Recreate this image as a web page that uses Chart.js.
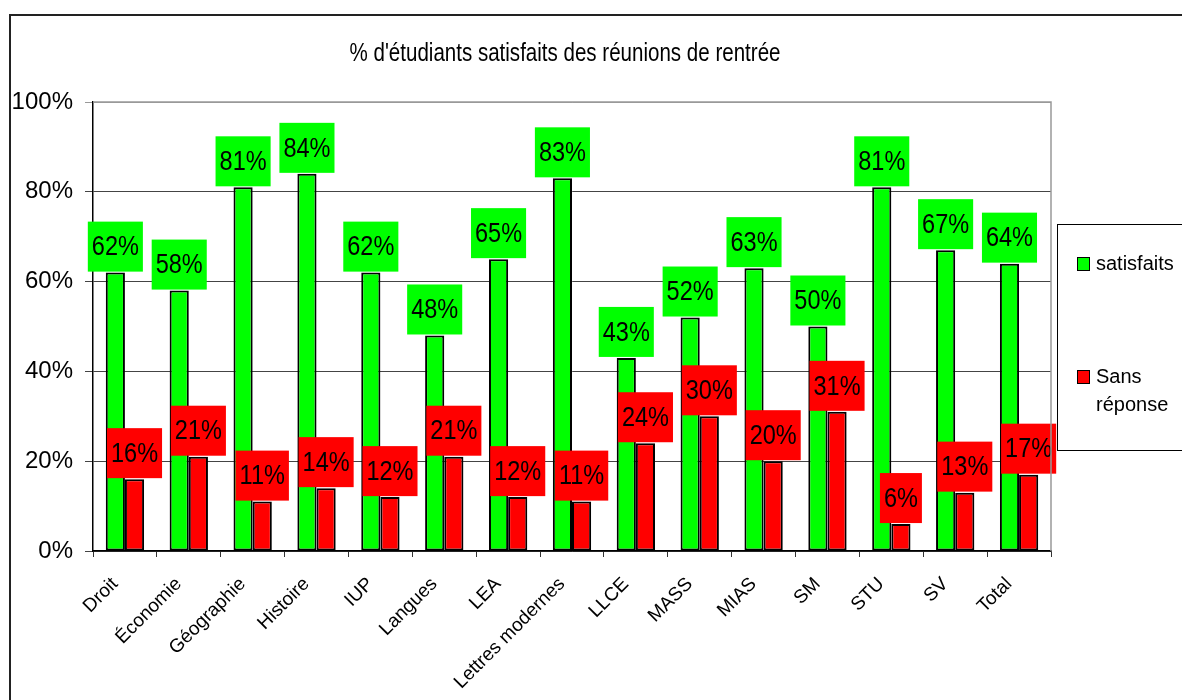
<!DOCTYPE html>
<html>
<head>
<meta charset="utf-8">
<title>Réunions de rentrée</title>
<script src="https://cdn.jsdelivr.net/npm/chart.js@4/dist/chart.umd.min.js"></script>
<style>
    html, body { margin: 0; padding: 0; background: #fff; }
    #wrap { position: relative; width: 1182px; height: 700px; }
</style>
</head>
<body>
<div id="wrap"><canvas id="myChart" width="1182" height="700"></canvas></div>
<script>
var filieres = ["Droit", "Économie", "Géographie", "Histoire", "IUP", "Langues", "LEA",
    "Lettres modernes", "LLCE", "MASS", "MIAS", "SM", "STU", "SV", "Total"];
var satisfaits = [62, 58, 81, 84, 62, 48, 65, 83, 43, 52, 63, 50, 81, 67, 64];
var sansReponse = [16, 21, 11, 14, 12, 21, 12, 11, 24, 30, 20, 31, 6, 13, 17];
var yTicks = [0, 20, 40, 60, 80, 100];
var titre = "% d'étudiants satisfaits des réunions de rentrée";
var legendLabels = [["satisfaits"], ["Sans", "réponse"]];

var police = "'Liberation Sans', Arial, sans-serif";

// texte un peu resserré en largeur, comme le rendu du tableur
function texteEtroit(ctx, txt, x, y, sx) {
    ctx.save();
    ctx.translate(x, y);
    ctx.scale(sx, 1);
    ctx.fillText(txt, 0, 0);
    ctx.restore();
}

// cadre, titre et légende
var decor = {
    id: 'decor',
    beforeDraw: function (chart) {
        var ctx = chart.ctx;
        ctx.save();
        ctx.strokeStyle = '#222';
        ctx.lineWidth = 2;
        ctx.beginPath();
        ctx.moveTo(10, 700);
        ctx.lineTo(10, 15);
        ctx.lineTo(1182, 15);
        ctx.stroke();

        ctx.fillStyle = '#000';
        ctx.font = '26px ' + police;
        ctx.textAlign = 'center';
        ctx.textBaseline = 'alphabetic';
        texteEtroit(ctx, titre, 565, 61, 0.79);
        ctx.restore();
    },
    afterDraw: function (chart) {
        var ctx = chart.ctx;
        var a = chart.chartArea;
        ctx.save();
        // haut et droite de la zone de traçage
        ctx.strokeStyle = '#999';
        ctx.lineWidth = 1.5;
        ctx.beginPath();
        ctx.moveTo(a.left, a.top);
        ctx.lineTo(a.right, a.top);
        ctx.lineTo(a.right, a.bottom);
        ctx.stroke();

        // légende
        ctx.strokeStyle = '#000';
        ctx.lineWidth = 1;
        ctx.strokeRect(1057.5, 224.5, 140, 226);
        ctx.font = '20px ' + police;
        ctx.textAlign = 'left';
        ctx.textBaseline = 'middle';
        var ys = [264, 377];
        chart.data.datasets.forEach(function (ds, i) {
            ctx.fillStyle = ds.backgroundColor;
            ctx.fillRect(1077, ys[i] - 7, 13, 14);
            ctx.strokeStyle = '#000';
            ctx.strokeRect(1077.5, ys[i] - 6.5, 12, 13);
            ctx.fillStyle = '#000';
            legendLabels[i].forEach(function (txt, k) {
                ctx.fillText(txt, 1096, ys[i] + k * 28);
            });
        });
        ctx.restore();
    },
    // étiquettes de valeur sur fond coloré
    afterDatasetsDraw: function (chart) {
        var ctx = chart.ctx;
        var sx = 0.84;
        ctx.save();
        ctx.font = '28px ' + police;
        ctx.textAlign = 'center';
        ctx.textBaseline = 'middle';
        chart.data.datasets.forEach(function (ds, i) {
            var meta = chart.getDatasetMeta(i);
            meta.data.forEach(function (bar, j) {
                var txt = ds.data[j] + '%';
                var w = ctx.measureText(txt).width * sx + 8;
                var h = 50;
                var bottom = bar.y - 1;
                ctx.fillStyle = ds.backgroundColor;
                ctx.fillRect(bar.x - w / 2, bottom - h, w, h);
                ctx.fillStyle = '#000';
                texteEtroit(ctx, txt, bar.x, bottom - h / 2 + 1, sx);
            });
        });
        ctx.restore();
    }
};

new Chart("myChart", {
    type: "bar",
    data: {
        labels: filieres,
        datasets: [{
            label: "satisfaits",
            data: satisfaits,
            backgroundColor: "#00ff00",
            borderColor: "#000",
            borderWidth: 2,
            borderSkipped: false,
            categoryPercentage: 0.6,
            barPercentage: 1
        }, {
            label: "Sans réponse",
            data: sansReponse,
            backgroundColor: "#ff0000",
            borderColor: "#000",
            borderWidth: 2,
            borderSkipped: false,
            categoryPercentage: 0.6,
            barPercentage: 1
        }]
    },
    options: {
        responsive: false,
        animation: false,
        layout: {
            padding: { top: 102, right: 131, left: 0, bottom: 0 }
        },
        plugins: {
            legend: { display: false },
            title: { display: false },
            tooltip: { enabled: false }
        },
        scales: {
            x: {
                offset: true,
                afterFit: function (scale) { scale.height = 149; },
                grid: {
                    drawOnChartArea: false,
                    offset: true,
                    tickLength: 6,
                    color: '#333'
                },
                border: { color: '#000', width: 1.5 },
                ticks: {
                    minRotation: 45,
                    maxRotation: 45,
                    autoSkip: false,
                    padding: 16,
                    labelOffset: -10,
                    color: '#000',
                    font: { family: police, size: 19 }
                }
            },
            y: {
                min: 0,
                max: 100,
                afterFit: function (scale) { scale.width = 93; },
                afterBuildTicks: function (scale) {
                    scale.ticks = yTicks.map(function (v) { return { value: v }; });
                },
                grid: {
                    tickLength: 8,
                    color: function (c) { return c.tick && c.tick.value === 100 ? '#999' : '#444'; }
                },
                border: { color: '#000', width: 1.5 },
                ticks: {
                    padding: 12,
                    color: '#000',
                    font: { family: police, size: 24 },
                    callback: function (v) { return v + '%'; }
                }
            }
        }
    },
    plugins: [decor]
});
</script>
</body>
</html>
